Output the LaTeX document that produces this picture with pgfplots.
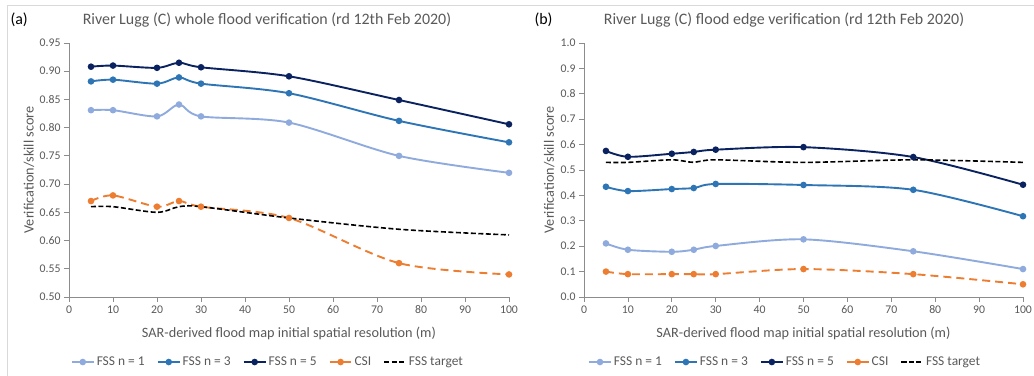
\documentclass[border=0pt]{standalone}
\usepackage{pgfplots}
\pgfplotsset{compat=1.18}
\usepackage{fontspec}
\setmainfont{Carlito}
\definecolor{axisgray}{HTML}{8C8C8C}
\definecolor{labelgray}{HTML}{595959}
\definecolor{framegray}{HTML}{D9D9D9}
\definecolor{fssone}{HTML}{8FAADC}
\definecolor{fssthree}{HTML}{2E75B6}
\definecolor{fssfive}{HTML}{0A2260}
\definecolor{csi}{HTML}{ED7D31}
\pgfplotsset{
  excel/.style={
    scale only axis, width=440bp, height=254bp,
    xmin=0, xmax=100, xtick={0,10,...,100},
    axis x line*=bottom, axis y line*=left,
    axis line style={draw=axisgray, line width=0.8bp},
    tick style={draw=axisgray, line width=0.8bp},
    tick align=outside, major tick length=5bp,
    ticklabel style={font=\fontsize{11.8}{13}\selectfont, text=labelgray},
    /pgf/number format/assume math mode=true,
    xlabel={SAR-derived flood map initial spatial resolution (m)},
    ylabel={Verification/skill score},
    xlabel style={font=\fontsize{14.3}{16}\selectfont, text=labelgray, at={(axis description cs:0.5,-0.142)}, anchor=center},
    ylabel style={font=\fontsize{14.3}{16}\selectfont, text=labelgray},
    legend columns=5,
    legend style={draw=none, fill=none, font=\fontsize{13.5}{15}\selectfont, text=labelgray,
      /tikz/every even column/.append style={column sep=10bp}},
    legend image code/.code={
      \draw[#1, mark repeat=2, mark phase=2] plot coordinates {(0bp,0bp) (11bp,0bp) (22bp,0bp)};},
    every axis plot/.append style={line width=1.9bp, mark size=2.3bp},
    clip=false,
  },
  s1/.style={color=fssone, smooth, mark=*},
  s3/.style={color=fssthree, smooth, mark=*},
  s5/.style={color=fssfive, smooth, mark=*},
  sc/.style={color=csi, smooth, mark=*, dash pattern=on 8bp off 5bp, mark options={solid}},
  st/.style={color=black, smooth, line width=1.6bp, dash pattern=on 5bp off 2.5bp},
}
\begin{document}
\begin{tikzpicture}
\useasboundingbox (0bp,0bp) rectangle (1034bp,376bp);
\draw[framegray, line width=0.8bp] (7bp,0bp) -- (7bp,371bp) -- (528bp,371bp);
\draw[framegray, line width=0.8bp] (528bp,370.5bp) -- (1034bp,370.5bp);
\node[anchor=west, font=\fontsize{16}{18}\selectfont] at (7bp,356bp) {(a)};
\node[anchor=west, font=\fontsize{16}{18}\selectfont] at (531bp,356bp) {(b)};
\node[font=\fontsize{16}{18}\selectfont, text=labelgray] at (267bp,356bp) {River Lugg (C) whole flood verification (rd 12th Feb 2020)};
\node[font=\fontsize{16}{18}\selectfont, text=labelgray] at (784bp,356bp) {River Lugg (C) flood edge verification (rd 12th Feb 2020)};

\begin{axis}[excel, at={(69bp,79bp)}, anchor=south west,
  ymin=0.5, ymax=0.95, ytick={0.5,0.55,...,0.96},
  yticklabel style={/pgf/number format/.cd, fixed, fixed zerofill, precision=2},
  ylabel style={at={(axis description cs:-0.091,0.5)}, anchor=center},
  legend style={at={(axis description cs:0.452,-0.256)}, anchor=center},
]
\addplot[s1] coordinates {(5,0.831) (10,0.831) (20,0.820) (25,0.841) (30,0.820) (50,0.809) (75,0.750) (100,0.720)};
\addlegendentry{FSS n = 1}
\addplot[s3] coordinates {(5,0.882) (10,0.885) (20,0.878) (25,0.889) (30,0.878) (50,0.861) (75,0.812) (100,0.774)};
\addlegendentry{FSS n = 3}
\addplot[s5] coordinates {(5,0.908) (10,0.910) (20,0.906) (25,0.915) (30,0.907) (50,0.891) (75,0.849) (100,0.806)};
\addlegendentry{FSS n = 5}
\addplot[sc] coordinates {(5,0.67) (10,0.68) (20,0.66) (25,0.67) (30,0.66) (50,0.64) (75,0.56) (100,0.54)};
\addlegendentry{CSI}
\addplot[st] coordinates {(5,0.66) (10,0.66) (20,0.65) (25,0.66) (30,0.66) (50,0.64) (75,0.62) (100,0.61)};
\addlegendentry{FSS target}
\end{axis}

\begin{axis}[excel, at={(584bp,79bp)}, anchor=south west, width=439bp,
  ymin=0, ymax=1, ytick={0,0.1,...,1.01},
  yticklabel style={/pgf/number format/.cd, fixed, fixed zerofill, precision=1},
  ylabel style={at={(axis description cs:-0.079,0.5)}, anchor=center},
  legend style={at={(axis description cs:0.458,-0.256)}, anchor=center},
]
\addplot[s1] coordinates {(5,0.211) (10,0.186) (20,0.178) (25,0.186) (30,0.201) (50,0.227) (75,0.180) (100,0.110)};
\addlegendentry{FSS n = 1}
\addplot[s3] coordinates {(5,0.434) (10,0.417) (20,0.425) (25,0.429) (30,0.445) (50,0.441) (75,0.422) (100,0.318)};
\addlegendentry{FSS n = 3}
\addplot[s5] coordinates {(5,0.575) (10,0.552) (20,0.564) (25,0.571) (30,0.580) (50,0.590) (75,0.551) (100,0.442)};
\addlegendentry{FSS n = 5}
\addplot[sc] coordinates {(5,0.10) (10,0.09) (20,0.09) (25,0.09) (30,0.09) (50,0.11) (75,0.09) (100,0.05)};
\addlegendentry{CSI}
\addplot[st] coordinates {(5,0.53) (10,0.53) (20,0.54) (25,0.53) (30,0.54) (50,0.53) (75,0.54) (100,0.53)};
\addlegendentry{FSS target}
\end{axis}
\end{tikzpicture}
\end{document}
